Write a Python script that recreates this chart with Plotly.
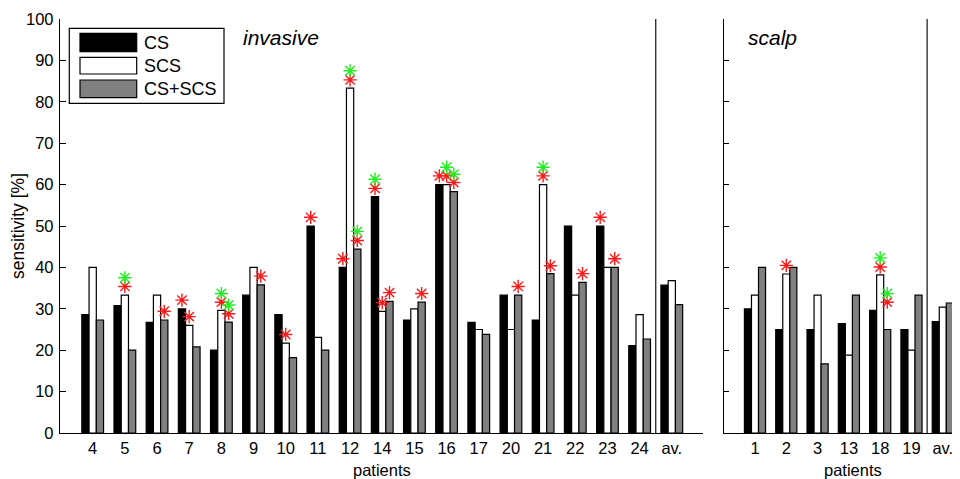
import plotly.graph_objects as go

# ---------------- data ----------------
inv_labels = ["4", "5", "6", "7", "8", "9", "10", "11", "12", "14", "15", "16",
              "17", "20", "21", "22", "23", "24", "av."]
inv_cs = [28.6, 30.8, 26.7, 30.0, 20.0, 33.3, 28.6, 50.0, 40.0, 57.1, 27.3, 60.0,
          26.7, 33.3, 27.3, 50.0, 50.0, 21.1, 35.7]
inv_scs = [40.0, 33.3, 33.3, 26.0, 29.6, 40.0, 21.7, 23.1, 83.3, 29.4, 30.0, 60.0,
           25.0, 25.0, 60.0, 33.3, 40.0, 28.6, 36.8]
inv_both = [27.3, 20.0, 27.3, 20.8, 26.8, 35.8, 18.2, 20.0, 44.4, 31.8, 31.6, 58.3,
            23.8, 33.3, 38.5, 36.4, 40.0, 22.7, 31.0]

sc_labels = ["1", "2", "3", "13", "18", "19", "av."]
sc_cs = [30.0, 25.0, 25.0, 26.4, 29.6, 25.0, 26.9]
sc_scs = [33.3, 38.4, 33.3, 18.8, 38.2, 20.0, 30.4]
sc_both = [40.0, 40.0, 16.7, 33.3, 25.0, 33.3, 31.4]

# significance stars: category, series (0=CS, 1=SCS, 2=CS+SCS), colour, value
inv_star_cat = ["5", "5", "6", "7", "7", "8", "8", "8", "8", "9", "10", "11",
                "12", "12", "12", "12", "12", "14", "14", "14", "14", "15",
                "16", "16", "16", "16", "16", "20", "21", "21", "21", "22", "23", "23"]
inv_star_ser = [1, 1, 2, 0, 1, 1, 1, 2, 2, 2, 1, 0,
                0, 1, 1, 2, 2, 0, 0, 1, 2, 2,
                0, 1, 1, 2, 2, 2, 1, 1, 2, 2, 0, 2]
inv_star_col = ["r", "g", "r", "r", "r", "r", "g", "r", "g", "r", "r", "r",
                "r", "r", "g", "r", "g", "r", "g", "r", "r", "r",
                "r", "r", "g", "r", "g", "r", "r", "g", "r", "r", "r", "r"]
inv_star_y = [35.4, 37.5, 29.4, 32.1, 28.1, 31.6, 33.7, 28.8, 30.9, 37.9, 23.8, 52.1,
              42.1, 85.3, 87.5, 46.5, 48.7, 59.1, 61.3, 31.5, 33.9, 33.7,
              62.1, 62.1, 64.2, 60.5, 62.5, 35.4, 62.1, 64.2, 40.4, 38.5, 52.1, 42.1]

sc_star_cat = ["2", "18", "18", "18", "18"]
sc_star_ser = [1, 1, 1, 2, 2]
sc_star_col = ["r", "r", "g", "r", "g"]
sc_star_y = [40.5, 40.1, 42.3, 31.6, 33.7]

series_names = ["CS", "SCS", "CS+SCS"]
y_ticks = [0, 10, 20, 30, 40, 50, 60, 70, 80, 90, 100]

# ---------------- styling ----------------
FONT = "Liberation Sans, Arial, Helvetica, sans-serif"
fills = ["#000000", "#ffffff", "#808080"]
star_colors = {"r": "#ff1a1a", "g": "#22ee22"}
BW = 0.225  # bar width in category units

# the page body adds an 8px margin, so the figure is shifted by 8px
OFF = 8
W, H = 960 - OFF, 479 - OFF
ML, MR, MT, MB = 60 - OFF, 0, 19 - OFF, 46
PW, PH = W - ML - MR, H - MT - MB


def px(x):  # page pixel -> paper
    return (x - 60) / PW


def py(y):
    return (433 - y) / PH


fig = go.Figure()


def add_panel(labels, series, star_cat, star_ser, star_col, star_y, xa, ya):
    idx = list(range(len(labels)))
    for k, vals in enumerate(series):
        fig.add_trace(go.Bar(
            x=idx, y=vals, name=series_names[k], width=BW,
            offset=-1.5 * BW + k * BW,
            marker=dict(color=fills[k], line=dict(color="#000000", width=1.2)),
            xaxis=xa, yaxis=ya, showlegend=False))
    for c in ["r", "g"]:
        xs, ys = [], []
        for cat, s, col, v in zip(star_cat, star_ser, star_col, star_y):
            if col == c:
                xs.append(labels.index(cat) + (s - 1) * BW)
                ys.append(v)
        fig.add_trace(go.Scatter(
            x=xs, y=ys, mode="markers",
            marker=dict(symbol="asterisk-open", size=11, color=star_colors[c],
                        line=dict(color=star_colors[c], width=1.4)),
            xaxis=xa, yaxis=ya, showlegend=False))


add_panel(inv_labels, [inv_cs, inv_scs, inv_both],
          inv_star_cat, inv_star_ser, inv_star_col, inv_star_y, "x", "y")
add_panel(sc_labels, [sc_cs, sc_scs, sc_both],
          sc_star_cat, sc_star_ser, sc_star_col, sc_star_y, "x2", "y2")

tickfont = dict(family=FONT, size=16.5, color="#000000")

fig.update_layout(
    width=W, height=H,
    margin=dict(l=ML, r=MR, t=MT, b=MB),
    paper_bgcolor="white", plot_bgcolor="white",
    barmode="overlay",
    font=dict(family=FONT, color="#000000"),
    xaxis=dict(domain=[0, px(703)], range=[-1.016, 18.97],
               tickmode="array", tickvals=list(range(len(inv_labels))),
               ticktext=inv_labels, ticks="", showgrid=False, zeroline=False,
               showline=True, linecolor="#000000", linewidth=1.3,
               tickfont=tickfont, ticklabelstandoff=0),
    yaxis=dict(domain=[0, 1], range=[0, 100], tickmode="array", tickvals=y_ticks,
               ticks="inside", ticklen=6, tickwidth=1.2, tickcolor="#000000",
               showgrid=False, zeroline=False, showline=True, linecolor="#000000",
               linewidth=1.3, tickfont=tickfont, ticklabelstandoff=2,
               title=dict(text="sensitivity [%]", font=dict(family=FONT, size=17.5),
                          standoff=2)),
    xaxis2=dict(domain=[px(724), 1], range=[-0.99, 6.55], anchor="y2",
                tickmode="array", tickvals=list(range(len(sc_labels))),
                ticktext=sc_labels, ticks="", showgrid=False, zeroline=False,
                showline=True, linecolor="#000000", linewidth=1.3,
                tickfont=tickfont, ticklabelstandoff=0),
    yaxis2=dict(domain=[0, 1], range=[0, 100], anchor="x2", tickmode="array",
                tickvals=y_ticks, showticklabels=False,
                ticks="inside", ticklen=5, tickwidth=1.2, tickcolor="#000000",
                showgrid=False, zeroline=False, showline=True, linecolor="#000000",
                linewidth=1.3),
)

shapes = [
    dict(type="line", xref="x", yref="y", x0=len(inv_labels) - 1.5,
         x1=len(inv_labels) - 1.5, y0=0, y1=100, line=dict(color="#333333", width=1.4)),
    dict(type="line", xref="x2", yref="y2", x0=len(sc_labels) - 1.5,
         x1=len(sc_labels) - 1.5, y0=0, y1=100, line=dict(color="#333333", width=1.4)),
    # legend box
    dict(type="rect", xref="paper", yref="paper", x0=px(69.3), x1=px(224),
         y0=py(103.3), y1=py(28.3), line=dict(color="#000000", width=1.2),
         fillcolor="white", layer="above"),
]
annotations = [
    dict(text="<i>invasive</i>", xref="paper", yref="paper", x=px(241), y=py(38),
         xanchor="left", yanchor="middle", showarrow=False,
         font=dict(family=FONT, size=21)),
    dict(text="<i>scalp</i>", xref="paper", yref="paper", x=px(746), y=py(38),
         xanchor="left", yanchor="middle", showarrow=False,
         font=dict(family=FONT, size=21)),
    dict(text="patients", xref="paper", yref="paper", x=px(381.5), y=py(470),
         xanchor="center", yanchor="middle", showarrow=False,
         font=dict(family=FONT, size=16.5)),
    dict(text="patients", xref="paper", yref="paper", x=px(852.5), y=py(470),
         xanchor="center", yanchor="middle", showarrow=False,
         font=dict(family=FONT, size=16.5)),
]
rows = [(33.3, 51.7), (57.3, 74.0), (80.0, 97.7)]
for k, (top, bot) in enumerate(rows):
    shapes.append(dict(type="rect", xref="paper", yref="paper", x0=px(80), x1=px(136.7),
                       y0=py(bot), y1=py(top), fillcolor=fills[k],
                       line=dict(color="#000000", width=1.2), layer="above"))
    annotations.append(dict(text=series_names[k], xref="paper", yref="paper",
                            x=px(141.5), y=py((top + bot) / 2), xanchor="left",
                            yanchor="middle", showarrow=False,
                            font=dict(family=FONT, size=18)))

fig.update_layout(shapes=shapes, annotations=annotations)

fig.write_html("out.html")
